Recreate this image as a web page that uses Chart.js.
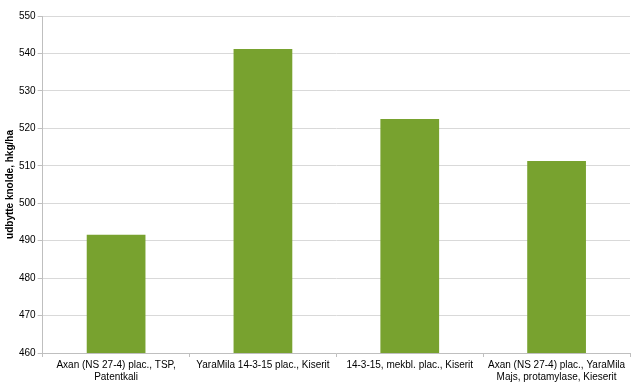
<!DOCTYPE html>
<html><head><meta charset="utf-8">
<script src="https://cdn.jsdelivr.net/npm/chart.js@4"></script>
<style>html,body{margin:0;padding:0;background:#fff}#wrap{width:643px;height:389px}</style>
</head><body><div id="wrap"><canvas id="c" width="643" height="389"></canvas></div>
<script>
const categories = [
  ["Axan (NS 27-4) plac., TSP,", "Patentkali"],
  ["YaraMila 14-3-15 plac., Kiserit"],
  ["14-3-15, mekbl. plac., Kiserit"],
  ["Axan (NS 27-4) plac., YaraMila", "Majs, protamylase, Kieserit"]
];
const yieldValues = [491.6, 541.2, 522.5, 511.3];
const yTitle = "udbytte knolde, hkg/ha";

new Chart(document.getElementById('c'), {
  type: 'bar',
  data: { labels: categories, datasets: [{ data: yieldValues, backgroundColor: '#78A22F', barPercentage: 0.4, categoryPercentage: 1.0 }] },
  options: {
    responsive: false, animation: false,
    layout: { padding: { left: 3, right: 13, top: 16, bottom: 4 } },
    plugins: { legend: { display: false }, tooltip: { enabled: false } },
    scales: {
      x: {
        grid: { offset: true, drawOnChartArea: false, color: '#BFBFBF', tickLength: 4 },
        border: { color: '#BFBFBF' },
        ticks: { autoSkip: false, color: '#000', font: { family: 'Liberation Sans', size: 10 }, maxRotation: 0, padding: 2 }
      },
      y: {
        min: 460, max: 550,
        ticks: { stepSize: 10, color: '#000', font: { family: 'Liberation Sans', size: 10 }, padding: 2 },
        grid: { color: '#D9D9D9', tickLength: 5, tickColor: '#BFBFBF' },
        border: { color: '#BFBFBF' },
        title: { display: true, text: yTitle, color: '#000', font: { family: 'Liberation Sans', size: 10, weight: 'bold' }, padding: 1 }
      }
    }
  }
});
</script></body></html>
